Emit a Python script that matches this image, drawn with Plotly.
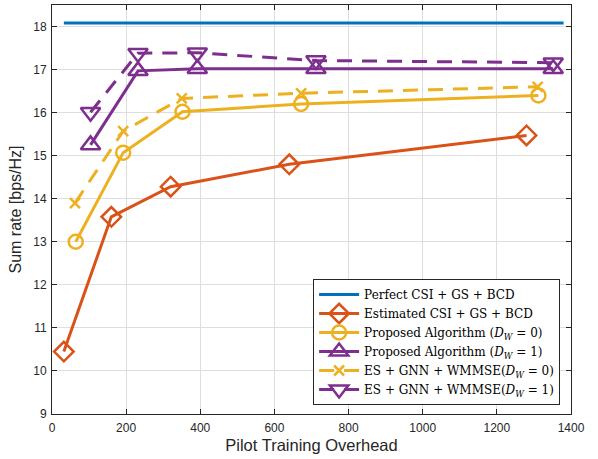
import plotly.graph_objects as go

# Pilot training overhead (x) and achievable sum rate (y) per scheme
perfect_x = [32, 1380]
perfect_y = [18.08, 18.08]

est_x = [32, 160, 320, 640, 1280]
est_y = [10.45, 13.58, 14.28, 14.8, 15.47]

prop0_x = [64, 192, 352, 672, 1312]
prop0_y = [13.0, 15.07, 16.02, 16.2, 16.4]

prop1_x = [104, 232, 392, 712, 1352]
prop1_y = [15.25, 16.97, 17.02, 17.02, 17.02]

gnn0_x = [62, 192, 350, 672, 1310]
gnn0_y = [13.9, 15.57, 16.33, 16.45, 16.6]

gnn1_x = [104, 232, 392, 712, 1352]
gnn1_y = [16.01, 17.38, 17.39, 17.21, 17.16]

x_ticks = [0, 200, 400, 600, 800, 1000, 1200, 1400]
y_ticks = list(range(9, 19))

BLUE = "#0072BD"
ORANGE = "#D95319"
YELLOW = "#EDB120"
PURPLE = "#7E2F8E"

fig = go.Figure()

def add(x, y, name, color, symbol=None, dash="solid", size=13):
    mode = "lines+markers" if symbol else "lines"
    marker = dict(symbol=symbol, size=size, color=color,
                  line=dict(color=color, width=2.5)) if symbol else None
    fig.add_trace(go.Scatter(
        x=x, y=y, name=name, mode=mode,
        line=dict(color=color, width=3, dash=dash),
        marker=marker,
    ))

add(perfect_x, perfect_y, "Perfect CSI + GS + BCD", BLUE)
add(est_x, est_y, "Estimated CSI + GS + BCD", ORANGE, "diamond-open", size=15)
add(prop0_x, prop0_y, "Proposed Algorithm (<i>D<sub>W</sub></i> = 0)", YELLOW, "circle-open", size=14)
add(prop1_x, prop1_y, "Proposed Algorithm (<i>D<sub>W</sub></i> = 1)", PURPLE, "triangle-up-open", size=17)
add(gnn0_x, gnn0_y, "ES + GNN + WMMSE(<i>D<sub>W</sub></i> = 0)", YELLOW, "x-thin-open", dash="15px,10px", size=10)
add(gnn1_x, gnn1_y, "ES + GNN + WMMSE(<i>D<sub>W</sub></i> = 1)", PURPLE, "triangle-down-open", dash="15px,10px", size=17)

SANS = "Liberation Sans, Arial, sans-serif"

axis_common = dict(
    showline=True, linecolor="#262626", linewidth=1,
    mirror="allticks", ticks="inside", ticklen=5, tickcolor="#262626",
    showgrid=True, gridcolor="#DEDEDE", gridwidth=1,
    zeroline=False,
    tickfont=dict(family=SANS, size=12, color="#262626"),
)

fig.update_layout(
    width=598, height=459,
    margin=dict(l=52, r=27, t=5, b=45),
    paper_bgcolor="white", plot_bgcolor="white",
    xaxis=dict(range=[0, 1400], tickvals=x_ticks, ticklabelstandoff=3,
               title=dict(text="Pilot Training Overhead", standoff=5,
                          font=dict(family=SANS, size=16.5, color="#262626")),
               **axis_common),
    yaxis=dict(range=[9, 18.5], tickvals=y_ticks, ticklabelstandoff=2,
               title=dict(text="Sum rate [bps/Hz]", standoff=7,
                          font=dict(family=SANS, size=16, color="#262626")),
               **axis_common),
    legend=dict(
        x=0.979, y=0.022, xanchor="right", yanchor="bottom",
        bgcolor="white", bordercolor="#262626", borderwidth=1,
        font=dict(family="DejaVu Serif, serif", size=12, color="black"),
        itemwidth=40, tracegroupgap=0,
    ),
    showlegend=True,
)

fig.write_html("out.html")
